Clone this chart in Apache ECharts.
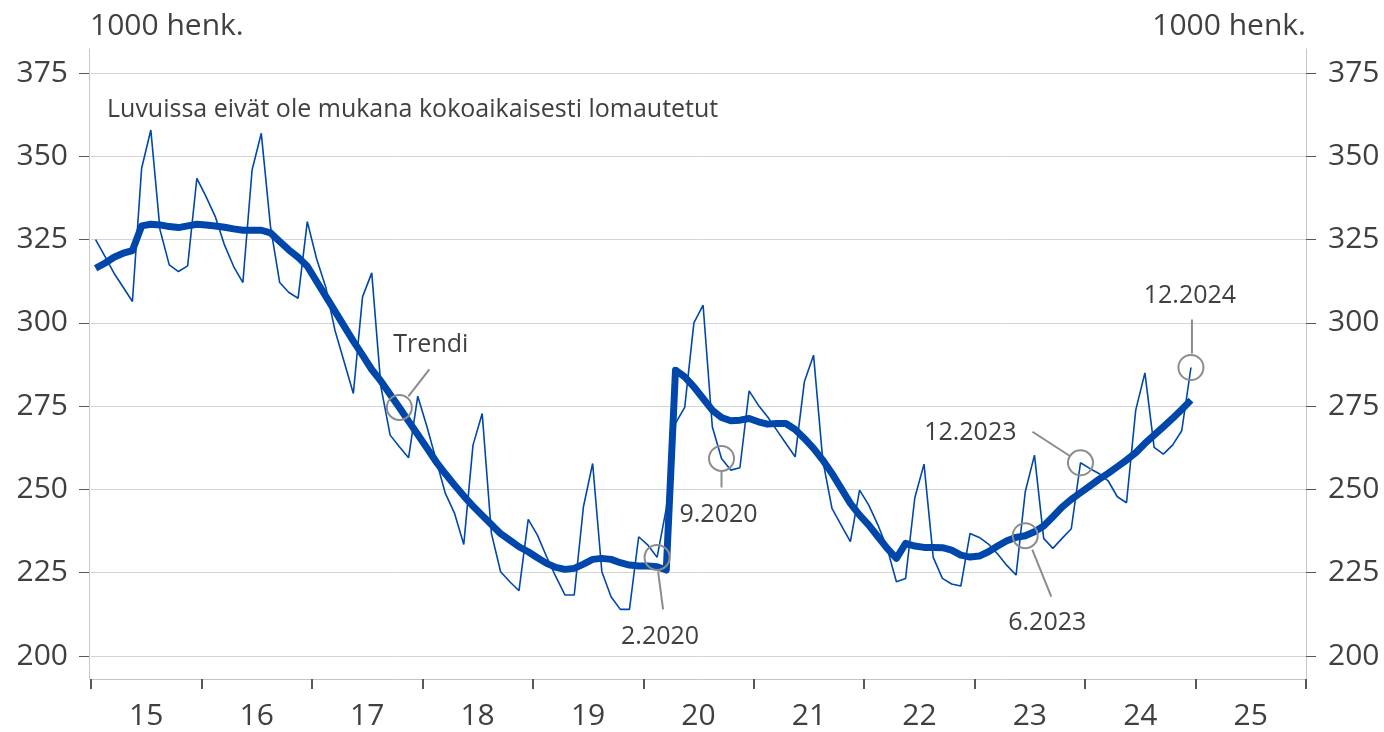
<!DOCTYPE html>
<html>
<head>
<meta charset="utf-8">
<script src="https://cdn.jsdelivr.net/npm/echarts@6/dist/echarts.min.js"></script>
<style>
html,body{margin:0;padding:0;background:#fff}
#main{width:1384px;height:732px}
</style>
</head>
<body>
<div id="main"></div>
<script>
// vuodet x-akselilla (2015-2025)
var years = ['15','16','17','18','19','20','21','22','23','24','25'];

// kuukausiluvut 1/2015 - 12/2024, 1000 henk.
var monthly = [
    325.0, 320.0, 314.9, 310.7, 306.4, 346.4, 357.9, 327.9, 317.4, 315.4, 317.1, 343.4,
    337.9, 331.9, 323.4, 316.9, 312.1, 345.9, 356.9, 328.9, 312.1, 309.1, 307.4, 330.4,
    319.3, 310.8, 297.8, 288.3, 278.8, 307.8, 315.0, 280.8, 266.3, 262.8, 259.5, 278.0,
    268.8, 258.8, 248.8, 242.8, 233.5, 263.3, 272.8, 236.8, 225.3, 222.3, 219.6, 241.0,
    236.3, 229.8, 223.8, 218.3, 218.3, 244.8, 257.8, 225.3, 217.8, 214.0, 214.0, 235.8,
    233.3, 229.6, 244.3, 269.8, 274.6, 300.0, 305.3, 268.8, 259.3, 255.8, 256.5, 279.6,
    275.3, 271.8, 267.8, 263.8, 259.8, 282.3, 290.3, 258.8, 244.3, 239.3, 234.3, 249.8,
    245.3, 239.3, 232.3, 222.3, 223.3, 247.5, 257.6, 229.6, 223.3, 221.6, 221.0, 236.8,
    235.6, 233.6, 230.6, 227.2, 224.3, 249.3, 260.3, 235.3, 232.3, 235.3, 238.2, 258.0,
    256.3, 254.8, 252.6, 247.8, 246.0, 273.8, 285.0, 262.6, 260.6, 263.3, 267.6, 286.6
];

// trendi
var trend = [
    316.4, 317.9, 319.7, 320.9, 321.7, 329.1, 329.6, 329.4, 328.9, 328.6, 329.1, 329.6,
    329.4, 329.1, 328.7, 328.2, 327.8, 327.8, 327.8, 327.0, 324.4, 321.9, 319.7, 317.0,
    312.5, 308.0, 303.5, 299.0, 294.5, 290.3, 286.0, 282.5, 278.5, 274.6, 270.5, 266.5,
    262.4, 258.3, 254.7, 251.3, 248.0, 245.0, 242.2, 239.5, 236.7, 234.8, 232.8, 231.3,
    229.5, 227.8, 226.6, 226.0, 226.3, 227.6, 229.0, 229.3, 229.0, 228.0, 227.3, 227.0,
    227.0, 226.8, 225.8, 285.8, 283.8, 280.8, 277.3, 273.8, 271.6, 270.6, 270.8, 271.3,
    270.3, 269.6, 269.8, 269.8, 268.0, 265.3, 262.3, 258.8, 254.8, 250.3, 245.8, 242.3,
    239.3, 235.8, 232.3, 229.3, 233.8, 233.0, 232.6, 232.6, 232.5, 231.8, 230.3, 229.7,
    230.0, 231.3, 233.0, 234.6, 235.6, 236.1, 237.3, 239.0, 241.8, 244.7, 247.0, 249.0,
    251.0, 253.0, 254.8, 256.8, 258.8, 261.0, 263.8, 266.3, 268.8, 271.3, 274.0, 276.8
];

// merkityt kohdat: teksti, sarja, kuukausi-indeksi
var noteText = ['Trendi', '2.2020', '9.2020', '12.2023', '6.2023', '12.2024'];
var noteSeries = ['trend', 'monthly', 'monthly', 'monthly', 'trend', 'monthly'];
var noteIndex = [33, 61, 68, 107, 101, 119];

var textCol = '#404040';
var font = '"Open Sans", sans-serif';
var blue = '#0047ab';

var months = [];
for (var y = 0; y < years.length; y++) {
    for (var m = 1; m <= 12; m++) {
        months.push(m + '.20' + years[y]);
    }
}

var myChart = echarts.init(document.getElementById('main'));

myChart.setOption({
    animation: false,
    backgroundColor: '#fff',
    grid: [
        {left: 91, right: 78, top: 73, bottom: 76},
        {left: 91, right: 78, top: 49, bottom: 53}
    ],
    xAxis: [{
        type: 'category',
        gridIndex: 0,
        data: months,
        boundaryGap: true,
        show: false
    }, {
        type: 'category',
        gridIndex: 1,
        data: years,
        boundaryGap: true,
        axisLine: {lineStyle: {color: '#c4c4c4', width: 1}},
        axisTick: {show: true, length: 10, lineStyle: {color: '#595959', width: 2}},
        axisLabel: {color: textCol, fontSize: 30, fontFamily: font, margin: 22},
        splitLine: {show: false}
    }],
    yAxis: [{
        type: 'value',
        gridIndex: 0,
        position: 'left',
        offset: 2,
        min: 200,
        max: 375,
        interval: 25,
        axisLine: {show: false},
        axisTick: {show: true, length: 10, lineStyle: {color: '#595959', width: 1}},
        axisLabel: {color: textCol, fontSize: 30, fontFamily: font, margin: 21},
        splitLine: {show: true, lineStyle: {color: '#d4d4d4', width: 1}}
    }, {
        type: 'value',
        gridIndex: 0,
        position: 'right',
        min: 200,
        max: 375,
        interval: 25,
        axisLine: {show: false},
        axisTick: {show: true, length: 10, lineStyle: {color: '#595959', width: 1}},
        axisLabel: {color: textCol, fontSize: 30, fontFamily: font, margin: 22},
        splitLine: {show: false}
    }, {
        type: 'value',
        gridIndex: 1,
        position: 'left',
        offset: 2,
        axisLine: {show: true, lineStyle: {color: '#c8c8c8', width: 1}},
        axisTick: {show: false},
        axisLabel: {show: false},
        splitLine: {show: false}
    }, {
        type: 'value',
        gridIndex: 1,
        position: 'right',
        axisLine: {show: true, lineStyle: {color: '#c8c8c8', width: 1}},
        axisTick: {show: false},
        axisLabel: {show: false},
        splitLine: {show: false}
    }],
    series: [{
        name: 'Trendi',
        type: 'line',
        xAxisIndex: 0,
        yAxisIndex: 0,
        data: trend,
        symbol: 'none',
        lineStyle: {color: blue, width: 7, join: 'round'},
        z: 3
    }, {
        name: 'Kuukausi',
        type: 'line',
        xAxisIndex: 0,
        yAxisIndex: 0,
        data: monthly,
        symbol: 'none',
        lineStyle: {color: blue, width: 1.6},
        z: 4
    }]
});

// merkintöjen sijoittelu ympyrän keskipisteestä: viiva x1,y1,x2,y2 ja teksti x,y,tasaus
var noteLayout = [
    {line: [9, -11, 30, -38], label: [-6, -63, 'left']},
    {line: [1, 14, 6, 52], label: [3, 79, 'center']},
    {line: [0, 13, 0, 29], label: [-3, 56, 'center']},
    {line: [-11, -7, -48, -31], label: [-64, -30, 'right']},
    {line: [7, 14, 26, 61], label: [22, 87, 'center']},
    {line: [1, -14, 1, -48], label: [-1, -72, 'center']}
];

var gfx = [];
var grey = '#8c8c8c';
for (var k = 0; k < noteText.length; k++) {
    var arr = noteSeries[k] === 'trend' ? trend : monthly;
    var p = myChart.convertToPixel({seriesIndex: 1}, [noteIndex[k], arr[noteIndex[k]]]);
    var lay = noteLayout[k];
    gfx.push({
        type: 'circle',
        shape: {cx: p[0], cy: p[1], r: 12.5},
        style: {fill: 'none', stroke: grey, lineWidth: 2},
        z: 100
    });
    gfx.push({
        type: 'line',
        shape: {x1: p[0] + lay.line[0], y1: p[1] + lay.line[1], x2: p[0] + lay.line[2], y2: p[1] + lay.line[3]},
        style: {stroke: grey, lineWidth: 2},
        z: 100
    });
    gfx.push({
        type: 'text',
        x: p[0] + lay.label[0],
        y: p[1] + lay.label[1],
        style: {text: noteText[k], font: '25px ' + font, fill: textCol, align: lay.label[2], verticalAlign: 'middle'},
        z: 100
    });
}

// yksiköt ja huomautus
gfx.push({
    type: 'text', x: 90, y: 26,
    style: {text: '1000 henk.', font: '30px ' + font, fill: textCol, align: 'left', verticalAlign: 'middle'}
});
gfx.push({
    type: 'text', x: 1306, y: 26,
    style: {text: '1000 henk.', font: '30px ' + font, fill: textCol, align: 'right', verticalAlign: 'middle'}
});
gfx.push({
    type: 'text', x: 107, y: 110,
    style: {text: 'Luvuissa eivät ole mukana kokoaikaisesti lomautetut', font: '25px ' + font, fill: textCol, align: 'left', verticalAlign: 'middle'}
});

myChart.setOption({graphic: gfx});
</script>
</body>
</html>
